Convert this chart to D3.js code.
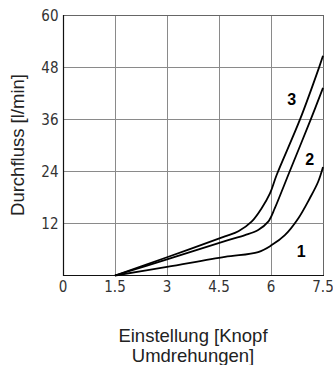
<!DOCTYPE html>
<html>
<head>
<meta charset="utf-8">
<script src="https://cdn.jsdelivr.net/npm/d3@7"></script>
<style>
  html, body { margin: 0; padding: 0; background: #fff; }
  svg { display: block; }
</style>
</head>
<body>
<svg id="chart" width="333" height="365"></svg>
<script>
// ---- data ----
const xTicks = [0, 1.5, 3, 4.5, 6, 7.5];
const xTickLabels = ["0", "1.5", "3", "4.5", "6", "7.5"];
const yTicks = [12, 24, 36, 48, 60];
const yTickLabels = ["12", "24", "36", "48", "60"];

const curve1X = [1.5, 3.0, 4.67, 5.63, 6.02, 6.4, 6.79, 7.12, 7.36, 7.5];
const curve1Y = [0, 2.0, 4.3, 5.4, 7.0, 9.3, 13.2, 17.8, 21.6, 25.0];
const curve2X = [1.5, 3.0, 4.67, 5.25, 5.63, 5.92, 6.11, 6.31, 6.5, 7.15, 7.5];
const curve2Y = [0, 3.7, 7.9, 9.3, 10.5, 12.4, 15.5, 19.4, 23.2, 36.0, 43.2];
const curve3X = [1.5, 3.0, 4.67, 5.06, 5.44, 5.73, 5.97, 6.16, 6.84, 7.39, 7.5];
const curve3Y = [0, 4.2, 9.0, 10.2, 12.4, 15.5, 18.9, 23.1, 36.0, 48.0, 50.6];

const curveLabels = ["1", "2", "3"];
const curveLabelX = [6.87, 7.12, 6.6];
const curveLabelY = [4.3, 25.5, 39.3];

const xTitle = ["Einstellung [Knopf", "Umdrehungen]"];
const yTitle = "Durchfluss [l/min]";

// ---- layout ----
const svg = d3.select("#chart");
const x = d3.scaleLinear().domain([0, 7.5]).range([63, 323]);
const y = d3.scaleLinear().domain([0, 60]).range([275.5, 15]);

const tickFont = "'Liberation Sans Narrow', 'DejaVu Sans Condensed', sans-serif";
const titleFont = "'Liberation Sans', Arial, sans-serif";

// grid
const grid = svg.append("g");
grid.selectAll("line.vx").data(xTicks.filter(d => d > 0)).enter().append("line")
  .attr("x1", d => x(d) + 0.5).attr("x2", d => x(d) + 0.5)
  .attr("y1", y(60)).attr("y2", y(0))
  .attr("stroke", d => d === 7.5 ? "#666" : "#8a8a8a").attr("stroke-width", 1);
grid.selectAll("line.hy").data(yTicks).enter().append("line")
  .attr("x1", x(0)).attr("x2", x(7.5) + 0.5)
  .attr("y1", d => Math.round(y(d)) + 0.5).attr("y2", d => Math.round(y(d)) + 0.5)
  .attr("stroke", d => d === 60 ? "#666" : "#8a8a8a").attr("stroke-width", 1);

// axes
svg.append("line").attr("x1", x(0) + 0.5).attr("x2", x(0) + 0.5)
  .attr("y1", y(60)).attr("y2", y(0) + 0.5).attr("stroke", "#111").attr("stroke-width", 1.2);
svg.append("line").attr("x1", x(0)).attr("x2", x(7.5) + 1)
  .attr("y1", y(0)).attr("y2", y(0)).attr("stroke", "#111").attr("stroke-width", 1.2);

// tick labels
svg.selectAll("text.xt").data(xTicks).enter().append("text")
  .attr("x", d => x(d)).attr("y", 291.5)
  .attr("text-anchor", "middle")
  .attr("font-family", tickFont).attr("font-size", 15).attr("fill", "#333")
  .text((d, i) => xTickLabels[i]);
svg.selectAll("text.yt").data(yTicks).enter().append("text")
  .attr("x", 58.5).attr("y", d => y(d) + 5.5)
  .attr("text-anchor", "end")
  .attr("font-family", tickFont).attr("font-size", 15).attr("fill", "#333")
  .text((d, i) => yTickLabels[i]);

// curves
const line = d3.line().x(d => x(d[0])).y(d => y(d[1])).curve(d3.curveCatmullRom.alpha(0.5));
[[curve1X, curve1Y], [curve2X, curve2Y], [curve3X, curve3Y]].forEach(([xs, ys]) => {
  svg.append("path").datum(xs.map((v, i) => [v, ys[i]]))
    .attr("d", line).attr("fill", "none").attr("stroke", "#000").attr("stroke-width", 1.8)
    .attr("stroke-linejoin", "round");
});

// curve labels
svg.selectAll("text.cl").data(curveLabels).enter().append("text")
  .attr("x", (d, i) => x(curveLabelX[i])).attr("y", (d, i) => y(curveLabelY[i]))
  .attr("text-anchor", "middle")
  .attr("font-family", titleFont).attr("font-weight", "bold").attr("font-size", 16).attr("fill", "#000")
  .text(d => d);

// titles
svg.selectAll("text.xtitle").data(xTitle).enter().append("text")
  .attr("x", 193).attr("y", (d, i) => 342 + i * 20)
  .attr("text-anchor", "middle")
  .attr("font-family", titleFont).attr("font-size", 18.5).attr("fill", "#222")
  .text(d => d);
svg.append("text")
  .attr("transform", "translate(23.5,145) rotate(-90)")
  .attr("text-anchor", "middle")
  .attr("font-family", titleFont).attr("font-size", 18.5).attr("fill", "#222")
  .text(yTitle);
</script>
</body>
</html>
